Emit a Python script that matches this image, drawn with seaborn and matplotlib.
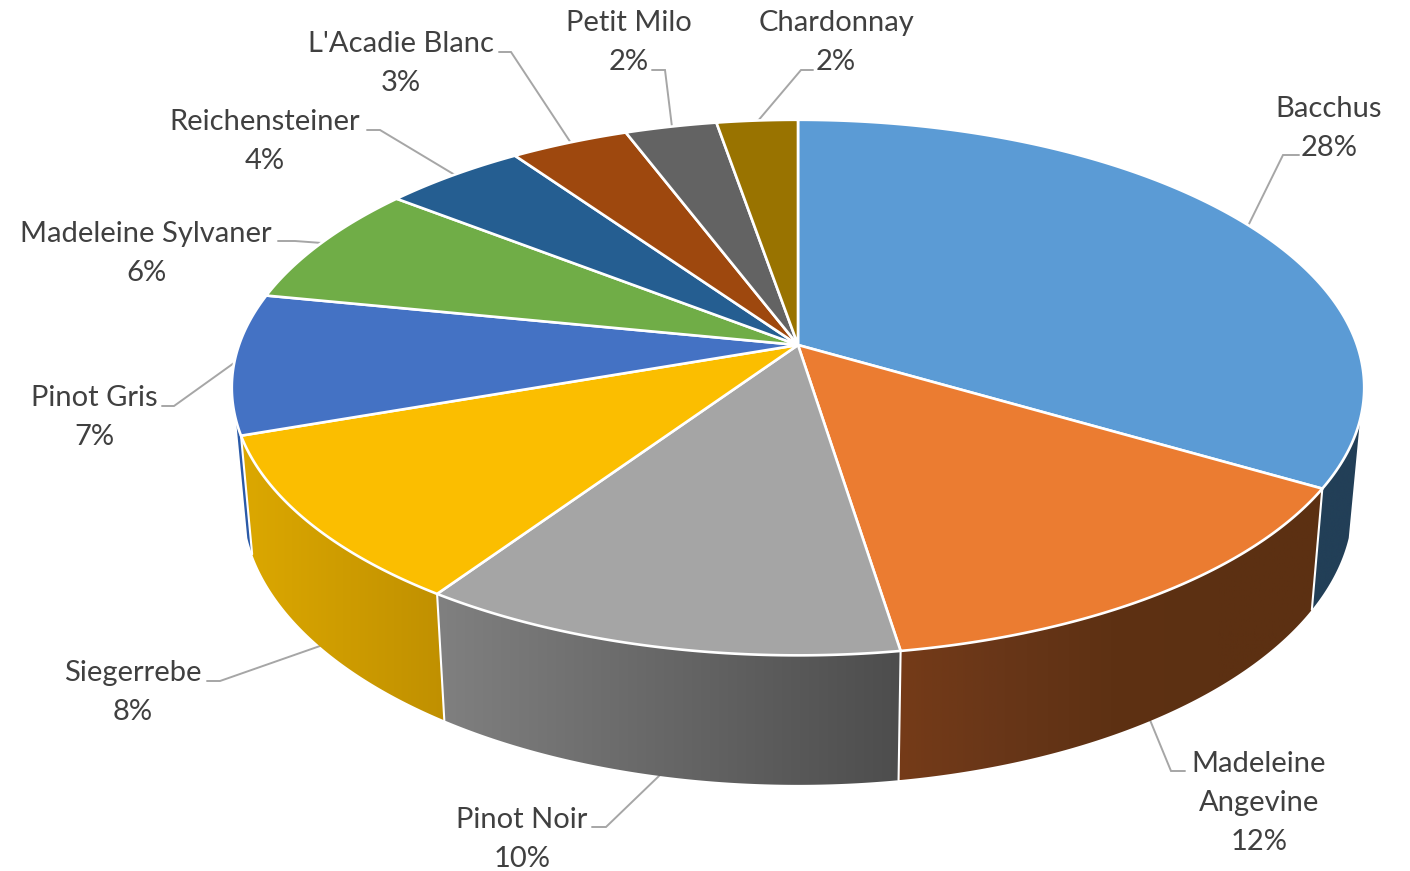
import numpy as np
import matplotlib
matplotlib.use("Agg")
import matplotlib.pyplot as plt
from matplotlib.patches import Polygon
import seaborn as sns

# grape varieties, clockwise from 12 o'clock
varieties = ["Bacchus", "Madeleine\nAngevine", "Pinot Noir", "Siegerrebe", "Pinot Gris",
             "Madeleine Sylvaner", "Reichensteiner", "L'Acadie Blanc", "Petit Milo", "Chardonnay"]
# slice sizes, labels are what the chart prints
shares = [28.0, 11.79, 10.0, 8.53, 7.09, 6.21, 3.98, 3.3, 2.56, 2.26]
percents = [28, 12, 10, 8, 7, 6, 4, 3, 2, 2]

top_colors = ["#5B9BD5", "#EB7C31", "#A5A5A5", "#FBBE00", "#4472C4",
              "#70AD47", "#255E91", "#9E480E", "#636363", "#997300"]
# side wall shading, left to right
wall_colors = [("#223F57", "#223F57"), ("#753B18", "#683618", "#5E3113", "#5C3012", "#5C3012"),
               ("#808080", "#4D4D4D"),
               ("#DCA800", "#C09000"), ("#2A5AA8", "#2A5AA8"), ("#45702B", "#45702B"),
               ("#173A5A", "#173A5A"), ("#622C09", "#622C09"), ("#3D3D3D", "#3D3D3D"),
               ("#5F4700", "#5F4700")]

# label layout in pixels: centre x, y of first line
label_pos = [(1329, 109), (1259, 764), (522, 820), (133, 673), (94, 398),
             (146, 234), (265, 122), (401, 44), (629, 23), (836, 23)]
leaders = [[(1299, 155), (1283, 155), (1248, 226)],
           [(1185, 771), (1171, 771), (1150, 720)],
           [(592, 827), (606, 827), (660, 775)],
           [(207, 681), (220, 681), (320, 646)],
           [(162, 406), (174, 406), (234, 363)],
           [(278, 241), (295, 241), (322, 243)],
           [(367, 130), (380, 130), (455, 175)],
           [(499, 52), (511, 52), (571, 143)],
           [(652, 70), (665, 70), (672, 127)],
           [(813, 70), (801, 70), (757, 122)]]

# pie geometry (perspective circle)
CX, CY = 798, 345
RX, RY, K = 559, 261, 0.159
BOTTOM_CY, BOTTOM_SX, BOTTOM_SY = 459, 0.98, 1.05


def top_xy(theta):
    d = 1 + K * np.cos(theta)
    return CX + RX * np.sin(theta) / d, CY - RY * np.cos(theta) / d


def bottom_xy(theta):
    x, y = top_xy(theta)
    return CX + (x - CX) * BOTTOM_SX, BOTTOM_CY + (y - CY) * BOTTOM_SY


sns.set_theme(style="white")
plt.rcParams["font.family"] = ["Lato", "DejaVu Sans"]

fig = plt.figure(figsize=(14.1, 8.71), dpi=100)
ax = fig.add_axes([0, 0, 1, 1])
ax.set_axis_off()

edges = np.radians(np.cumsum([0] + shares) / sum(shares) * 360)
palette = sns.color_palette(top_colors)

# side walls first, only the part facing the viewer
lo, hi = np.radians(106), np.radians(254)
for i in range(len(shares)):
    a, b = max(edges[i], lo), min(edges[i + 1], hi)
    if a >= b:
        continue
    t = np.linspace(a, b, 120)
    tx, ty = top_xy(t)
    bx, by = bottom_xy(t)
    pts = np.r_[np.c_[tx, ty], np.c_[bx, by][::-1]]
    cmap = sns.blend_palette(wall_colors[i], n_colors=256, as_cmap=True)
    poly = Polygon(pts, closed=True, fc="none", ec="none", zorder=2)
    ax.add_patch(poly)
    img = ax.imshow(np.linspace(0, 1, 256)[None, :], cmap=cmap, aspect="auto", zorder=2,
                    extent=[pts[:, 0].min(), pts[:, 0].max(), pts[:, 1].max(), pts[:, 1].min()])
    img.set_clip_path(poly)

# white seams between the walls
for e in edges[1:-1]:
    if lo < e < hi:
        x0, y0 = top_xy(e)
        x1, y1 = bottom_xy(e)
        ax.plot([x0, x1], [y0, y1], color="white", lw=1.5, zorder=3)

# top face
for i in range(len(shares)):
    t = np.linspace(edges[i], edges[i + 1], 160)
    tx, ty = top_xy(t)
    pts = np.r_[[[CX, CY]], np.c_[tx, ty]]
    ax.add_patch(Polygon(pts, closed=True, fc=palette[i], ec="white", lw=1.9,
                         joinstyle="round", zorder=4))

# leader lines go under the pie
for line in leaders:
    xs, ys = zip(*line)
    ax.plot(xs, ys, color="#A6A6A6", lw=1.4, zorder=1, solid_joinstyle="miter")

# labels, one text per line so the 39 px spacing is exact
for name, pct, (x, y) in zip(varieties, percents, label_pos):
    rows = name.split("\n") + [f"{pct}%"]
    for j, row in enumerate(rows):
        ax.text(x, y + 39 * j, row, ha="center", va="center", fontsize=21, color="#404040")

ax.set_xlim(0, 1410)
ax.set_ylim(871, 0)
fig.savefig("out.png", dpi=100, facecolor="white")
